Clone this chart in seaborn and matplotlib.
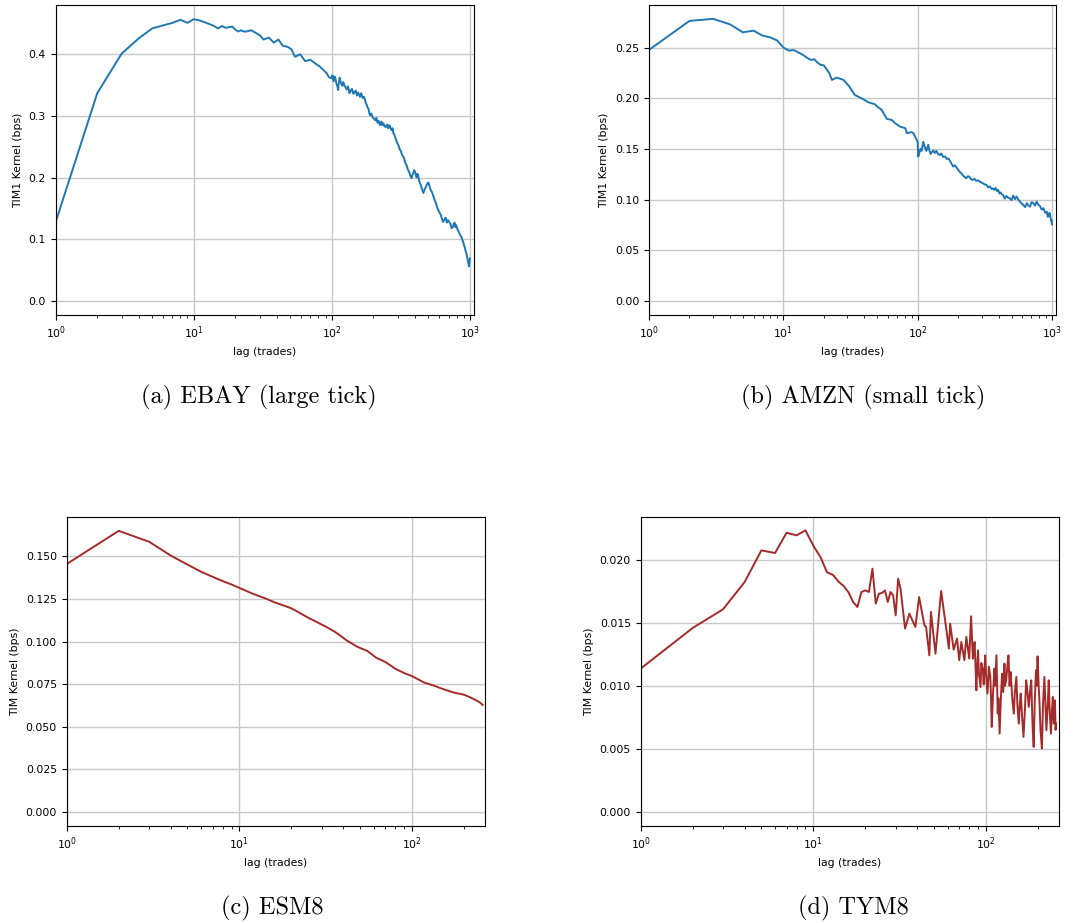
import numpy as np
import pandas as pd
import matplotlib
matplotlib.use("Agg")
import matplotlib.pyplot as plt
import seaborn as sns

# ---------------- data ----------------
ebay_lag = [1, 2, 3, 4, 5, 6, 7, 8, 9, 10, 11, 12, 13, 14, 15, 16, 17, 18, 19, 20,
            21, 22, 23, 24, 26, 28, 30, 32, 35, 38, 41, 44, 48, 51, 54, 59, 64, 70,
            76, 82, 89, 92, 95,
            100, 101, 103, 104, 105, 107, 108, 110, 111, 112, 113, 114, 115, 117,
            119, 121, 123, 126, 128, 131, 134, 137, 140, 143, 146, 149, 152, 155,
            158, 160, 163, 165, 168, 171, 174, 176, 179, 181, 184, 186, 189, 193,
            197, 201, 206, 210, 214, 218, 223, 226, 229, 232, 236, 241, 246, 251,
            256, 259, 263, 267, 271, 275, 279, 283, 287, 291, 295, 299, 303, 307,
            311, 315, 320, 326, 333, 340, 348, 355, 362, 370, 378, 383, 388, 394,
            400, 405, 411, 417, 423, 431, 440, 450, 460, 470, 480, 490, 500, 510,
            520, 532, 545, 556, 568, 580, 591, 602, 614, 627, 640, 653, 667, 680,
            694, 708, 722, 737, 753, 763, 774, 784, 795, 812, 830, 849, 868, 880,
            890, 903, 915, 928, 940, 952, 964, 975, 985, 992, 1000]
ebay_val = [0.128, 0.337, 0.401, 0.426, 0.442, 0.447, 0.451, 0.456, 0.451, 0.457,
            0.455, 0.452, 0.449, 0.446, 0.442, 0.446, 0.443, 0.444, 0.445, 0.440,
            0.437, 0.439, 0.437, 0.437, 0.439, 0.435, 0.431, 0.424, 0.427, 0.419,
            0.424, 0.414, 0.412, 0.408, 0.396, 0.400, 0.389, 0.391, 0.385, 0.380,
            0.372, 0.369, 0.363,
            0.361, 0.366, 0.356, 0.360, 0.364, 0.357, 0.352, 0.347, 0.342, 0.352,
            0.356, 0.362, 0.358, 0.352, 0.349, 0.355, 0.350, 0.346, 0.343, 0.348,
            0.337, 0.341, 0.344, 0.336, 0.339, 0.341, 0.333, 0.338, 0.334, 0.331,
            0.337, 0.333, 0.329, 0.331, 0.326, 0.321, 0.318, 0.314, 0.312, 0.306,
            0.301, 0.304, 0.298, 0.296, 0.293, 0.297, 0.289, 0.292, 0.285, 0.289,
            0.291, 0.285, 0.288, 0.283, 0.282, 0.286, 0.280, 0.285, 0.284, 0.279,
            0.277, 0.280, 0.272, 0.270, 0.266, 0.262, 0.258, 0.255, 0.253, 0.249,
            0.245, 0.244, 0.239, 0.235, 0.232, 0.224, 0.220, 0.213, 0.210, 0.203,
            0.199, 0.204, 0.207, 0.212, 0.210, 0.205, 0.200, 0.206, 0.201, 0.193,
            0.188, 0.181, 0.175, 0.181, 0.185, 0.190, 0.192, 0.186, 0.180, 0.176,
            0.169, 0.163, 0.158, 0.151, 0.147, 0.143, 0.140, 0.133, 0.128, 0.132,
            0.135, 0.127, 0.131, 0.128, 0.125, 0.118, 0.120, 0.125, 0.127, 0.120,
            0.123, 0.116, 0.112, 0.107, 0.104, 0.099, 0.097, 0.091, 0.088, 0.082,
            0.078, 0.072, 0.066, 0.060, 0.056, 0.064, 0.069]

amzn_lag = [1, 2, 3, 4, 5, 6, 7, 8, 9, 10, 11, 12, 13, 14, 15, 16, 17, 18, 19, 20,
            22, 23, 25, 28, 30, 31, 34, 36, 39, 43, 48, 50, 54, 59, 64, 68, 74, 81,
            83, 90, 93, 97,
            100, 101, 103, 105, 107, 110, 113, 116, 118, 120, 122, 125, 128, 131,
            134, 138, 142, 146, 150, 155, 160, 165, 170, 175, 179, 184, 189, 194,
            199, 205, 211, 217, 223, 230, 236, 243, 250, 257, 265, 273, 281, 290,
            298, 307, 316, 325, 335, 345, 355, 364, 372, 380, 389, 398, 406, 415,
            424, 433, 445, 458, 471, 485, 500, 515, 530, 545, 561, 578, 595, 612,
            631, 650, 668, 686, 706, 727, 748, 769, 792, 815, 839, 863, 889, 915,
            930, 945, 958, 968, 977, 985, 993, 1000]
amzn_val = [0.2477, 0.2763, 0.2783, 0.2730, 0.2650, 0.2667, 0.2618, 0.2600, 0.2570,
            0.2500, 0.2470, 0.2475, 0.2450, 0.2428, 0.2400, 0.2378, 0.2385, 0.2350,
            0.2329, 0.2325, 0.2247, 0.2181, 0.2204, 0.2181, 0.2138, 0.2115, 0.2033,
            0.2016, 0.1993, 0.1960, 0.1941, 0.1918, 0.1885, 0.1796, 0.1786, 0.1753,
            0.1720, 0.1704, 0.1655, 0.1665, 0.1655, 0.1606,
            0.1570, 0.1424, 0.1465, 0.1500, 0.1480, 0.1570, 0.1520, 0.1480, 0.1510,
            0.1540, 0.1490, 0.1450, 0.1470, 0.1485, 0.1460, 0.1480, 0.1450, 0.1440,
            0.1455, 0.1420, 0.1425, 0.1400, 0.1405, 0.1375, 0.1350, 0.1325, 0.1340,
            0.1320, 0.1300, 0.1276, 0.1260, 0.1240, 0.1225, 0.1210, 0.1230, 0.1225,
            0.1200, 0.1194, 0.1205, 0.1185, 0.1190, 0.1177, 0.1170, 0.1160, 0.1150,
            0.1145, 0.1120, 0.1130, 0.1105, 0.1110, 0.1095, 0.1115, 0.1085, 0.1096,
            0.1060, 0.1070, 0.1050, 0.1046, 0.1010, 0.1035, 0.1020, 0.1013, 0.0995,
            0.1040, 0.1005, 0.1030, 0.1000, 0.0980, 0.0960, 0.0947, 0.0925, 0.0965,
            0.0940, 0.0930, 0.0975, 0.0965, 0.0940, 0.0980, 0.0950, 0.0935, 0.0900,
            0.0915, 0.0870, 0.0880, 0.0830, 0.0835, 0.0870, 0.0849, 0.0810, 0.0790,
            0.0800, 0.0755]

esm_lag = [1, 2, 3, 4, 5, 6, 7, 8, 9, 10, 12, 14, 16, 18, 20, 22, 25, 28, 32, 36,
           42, 48, 55, 62, 70, 80, 90, 100, 117, 135, 150, 175, 200, 225, 245, 256]
esm_val = [0.1455, 0.1650, 0.1586, 0.1505, 0.1452, 0.1410, 0.1380, 0.1355, 0.1335,
           0.1315, 0.1280, 0.1255, 0.1230, 0.1212, 0.1195, 0.1172, 0.1140, 0.1115,
           0.1085, 0.1055, 0.1005, 0.0970, 0.0945, 0.0905, 0.0880, 0.0840, 0.0815,
           0.0797, 0.0760, 0.0740, 0.0722, 0.0700, 0.0688, 0.0665, 0.0645, 0.0628]

tym_lag = [1, 2, 3, 4, 5, 6, 7, 8, 9, 10, 11, 12, 13, 14, 15, 16, 17, 18, 19, 20,
           21, 22, 23, 24, 25, 26, 27, 28, 29, 30, 31, 32, 34, 36, 39, 41, 44, 45,
           47, 48, 51, 55, 59, 61, 62, 65, 68, 70, 72, 75, 77, 80, 82,
           84, 85, 86, 87, 88, 89, 90, 91, 93, 94, 96, 97, 99, 100, 102, 104, 106,
           107, 108, 110, 112, 113, 115, 116, 117, 118, 120, 122, 124, 126, 128,
           129, 131, 133, 135, 137, 139, 142, 145, 147, 150, 152, 155, 157, 159,
           162, 165, 168, 171, 174, 177, 180, 183, 186, 189, 192, 195, 197, 199,
           202, 204, 207, 211, 214, 218, 221, 224, 228, 231, 234, 238, 241, 244,
           247, 251, 253, 255]
tym_val = [0.01136, 0.01458, 0.01606, 0.01822, 0.02073, 0.02052, 0.02213, 0.02192,
           0.02232, 0.02110, 0.02020, 0.01900, 0.01878, 0.01825, 0.01790, 0.01740,
           0.01664, 0.01624, 0.01743, 0.01756, 0.01743, 0.01928, 0.01651, 0.01730,
           0.01735, 0.01756, 0.01664, 0.01743, 0.01717, 0.01558, 0.01849, 0.01769,
           0.01453, 0.01571, 0.01466, 0.01703, 0.01479, 0.01466, 0.01241, 0.01585,
           0.01254, 0.01751, 0.01439, 0.01294, 0.01492, 0.01286, 0.01373, 0.01202,
           0.01347, 0.01202, 0.01387, 0.01215, 0.01550,
           0.01215, 0.01300, 0.01347, 0.01150, 0.00964, 0.01150, 0.01281, 0.01100,
           0.00990, 0.01180, 0.01122, 0.01010, 0.01241, 0.01100, 0.00938, 0.01150,
           0.01070, 0.00900, 0.00673, 0.00950, 0.01136, 0.01000, 0.01241, 0.01000,
           0.00779, 0.00900, 0.00621, 0.00900, 0.01096, 0.00950, 0.01175, 0.01000,
           0.01043, 0.01150, 0.01241, 0.01000, 0.01109, 0.00900, 0.00779, 0.00950,
           0.01070, 0.00850, 0.00700, 0.00850, 0.00938, 0.00750, 0.00594, 0.00800,
           0.01043, 0.00950, 0.00832, 0.00950, 0.01043, 0.00700, 0.00515, 0.00900,
           0.01122, 0.01000, 0.01233, 0.01000, 0.00885, 0.00650, 0.00502, 0.00850,
           0.01070, 0.00850, 0.00647, 0.00850, 0.01043, 0.00800, 0.00621, 0.00800,
           0.00911, 0.00700, 0.00885, 0.00650, 0.00700]

captions = ["(a) EBAY (large tick)", "(b) AMZN (small tick)", "(c) ESM8", "(d) TYM8"]
ylabels = ["TIM1 Kernel (bps)", "TIM1 Kernel (bps)", "TIM Kernel (bps)", "TIM Kernel (bps)"]
xlabel = "lag (trades)"

# ---------------- figure ----------------
plt.rcParams["font.size"] = 7.8
fig = plt.figure(figsize=(10.75, 9.23), dpi=100)

W, H = 1075.0, 923.0
def box(l, r, t, b):
    return [l / W, 1 - b / H, (r - l) / W, (b - t) / H]

panels = [
    dict(pos=box(55.7, 474, 5, 315), x=ebay_lag, y=ebay_val, color="#1f77b4",
         xlim=(1, 1070), ylim=(-0.0229, 0.480), yticks=np.arange(0, 0.41, 0.1), fmt="{:.1f}",
         cap=(259, 397)),
    dict(pos=box(649, 1055.7, 5, 315), x=amzn_lag, y=amzn_val, color="#1f77b4",
         xlim=(1, 1066), ylim=(-0.0139, 0.292), yticks=np.arange(0, 0.26, 0.05), fmt="{:.2f}",
         cap=(863, 397)),
    dict(pos=box(66.7, 485, 516.7, 826), x=esm_lag, y=esm_val, color="#a52a2a",
         xlim=(1, 264), ylim=(-0.00825, 0.1733), yticks=np.arange(0, 0.151, 0.025), fmt="{:.3f}",
         cap=(272, 908)),
    dict(pos=box(640.7, 1059.3, 516.7, 826), x=tym_lag, y=tym_val, color="#a52a2a",
         xlim=(1, 266), ylim=(-0.00112, 0.0234), yticks=np.arange(0, 0.0201, 0.005), fmt="{:.3f}",
         cap=(853, 908)),
]

for i, p in enumerate(panels):
    ax = fig.add_axes(p["pos"])
    df = pd.DataFrame({"lag": p["x"], "kernel": p["y"]})
    sns.lineplot(data=df, x="lag", y="kernel", ax=ax, color=p["color"], linewidth=1.4)
    ax.set_xscale("log")
    ax.set_xlim(*p["xlim"])
    ax.set_ylim(*p["ylim"])
    ax.set_yticks(p["yticks"])
    ax.set_yticklabels([p["fmt"].format(v) for v in p["yticks"]])
    ax.grid(True, which="major", color="#c8c8c8", linewidth=1.0)
    ax.set_axisbelow(True)
    ax.set_xlabel(xlabel)
    ax.set_ylabel(ylabels[i])
    for s in ax.spines.values():
        s.set_linewidth(0.8)
    cx, cy = p["cap"]
    fig.text(cx / W, 1 - cy / H, captions[i], ha="center", va="center",
             fontsize=17.5, family="cmr10")

fig.savefig("out.png", dpi=100)
